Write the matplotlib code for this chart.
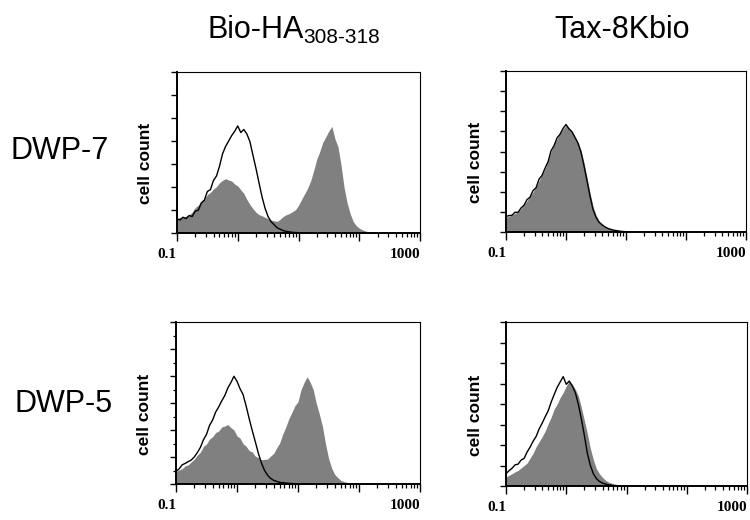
import numpy as np
import matplotlib
matplotlib.use("Agg")
import matplotlib.pyplot as plt
from matplotlib.ticker import LogLocator, NullFormatter, FixedLocator

plt.rcParams['font.family'] = ['Liberation Sans', 'DejaVu Sans']

# channel grid (log10 of fluorescence), 0.05 decade per channel
log_ch = np.round(np.arange(-1, 3.001, 0.05), 2)
fluor = 10 ** log_ch

col_titles = ["Bio-HA", "Tax-8Kbio"]
col_sub = ["308-318", ""]
row_labels = ["DWP-7", "DWP-5"]
tick_labels = ["0.1", "1000"]

# % of y axis height
tl_open = [8.7, 8.1, 9.8, 8.9, 10.9, 10.2, 13.6, 14.1, 18.7, 20.4, 25.8, 26.9, 32.6, 35.4, 41.5, 49.2,
           53.8, 57.1, 60.5, 63.2, 66.5, 62.4, 64.3, 61.5, 56.8, 48.3, 40.1, 31.2, 22.4, 15.3, 10.1,
           7.0, 5.1, 3.2, 2.3, 1.5, 1.0, 0.7, 0.4, 0.3, 0.2, 0]
tl_fill = [9.0, 9.6, 10.1, 10.4, 11.2, 13.0, 15.8, 17.2, 19.7, 21.3, 23.8, 25.2, 27.3, 28.8, 31.2, 32.7,
           33.8, 32.9, 32.3, 30.4, 29.2, 26.8, 24.6, 20.8, 17.7, 15.1, 12.9, 11.4, 10.7, 9.7, 8.9, 8.0,
           7.6, 7.2, 8.6, 10.3, 11.4, 12.1, 13.2, 14.4, 17.2, 20.8, 24.3, 27.8, 32.4, 38.7, 45.8, 50.6,
           56.3, 59.8, 63.4, 66.2, 58.5, 53.6, 42.3, 28.4, 18.8, 12.1, 7.2, 4.6, 3.0, 2.0, 1.3, 0.8,
           0.5, 0.3, 0.2, 0]
tr_open = [9.6, 10.2, 10.4, 12.3, 12.2, 14.9, 16.6, 20.1, 21.6, 25.7, 27.4, 32.8, 35.1, 39.6, 43.5, 50.4,
           53.6, 58.4, 60.7, 64.3, 66.8, 64.1, 62.3, 58.7, 55.2, 49.6, 41.2, 31.8, 22.3, 14.1, 9.2,
           6.1, 4.5, 3.2, 2.2, 1.6, 1.1, 0.8, 0.5, 0.3, 0.2, 0]
tr_fill = [9.2, 9.8, 10.6, 11.6, 12.6, 14.4, 17.0, 19.3, 22.1, 24.8, 28.1, 31.9, 35.6, 39.2, 44.1, 49.8,
           54.2, 58.0, 61.2, 64.0, 66.2, 64.6, 62.6, 59.4, 55.8, 50.8, 43.0, 34.0, 24.5, 16.0, 10.5,
           7.0, 5.0, 3.6, 2.5, 1.8, 1.2, 0.9, 0.6, 0.4, 0.3, 0.2, 0.1, 0]
bl_open = [7.8, 9.3, 11.8, 12.7, 13.8, 14.8, 16.7, 19.4, 22.6, 27.3, 30.6, 36.2, 39.5, 44.4, 47.6, 51.3,
           54.6, 59.3, 62.6, 66.5, 63.4, 58.8, 55.2, 48.1, 40.3, 33.0, 26.1, 19.0, 13.0, 8.5, 5.5,
           3.5, 2.3, 1.6, 1.0, 0.8, 0.6, 0.4, 0.3, 0.2, 0]
bl_fill = [7.8, 8.6, 9.4, 11.2, 11.8, 13.7, 15.3, 17.8, 19.7, 23.2, 24.7, 27.8, 29.2, 31.8, 32.7, 35.2,
           35.8, 36.7, 34.8, 33.3, 29.7, 28.3, 24.8, 23.3, 20.6, 19.8, 17.2, 16.3, 15.0, 15.2, 15.4,
           17.2, 18.8, 22.3, 25.3, 30.8, 35.2, 40.3, 44.2, 48.4, 50.8, 58.3, 62.7, 66.2, 62.8, 58.3,
           49.7, 43.2, 35.7, 25.0, 16.0, 10.0, 6.0, 4.0, 2.3, 1.5, 1.0, 0.6, 0.4, 0.3, 0.2, 0]
br_open = [7.5, 9.3, 10.8, 12.9, 13.3, 15.8, 16.8, 20.7, 23.7, 27.3, 30.2, 34.8, 38.3, 42.2, 45.8, 51.2,
           55.8, 60.2, 63.5, 66.7, 62.0, 64.0, 61.0, 57.0, 50.0, 41.0, 31.0, 20.0, 12.5, 7.5, 4.5,
           2.8, 1.8, 1.2, 0.8, 0.5, 0.3, 0.2, 0]
br_fill = [5.5, 6.5, 7.5, 8.6, 9.5, 11.0, 12.5, 14.0, 17.0, 20.0, 24.0, 27.0, 30.0, 33.5, 38.0, 42.0,
           47.0, 50.0, 54.0, 57.0, 61.0, 64.0, 62.0, 59.0, 55.0, 48.0, 40.0, 32.0, 23.0, 16.0, 10.6,
           7.5, 5.3, 3.6, 2.4, 1.7, 1.1, 0.8, 0.5, 0.3, 0.2, 0]

fig = plt.figure(figsize=(7.5, 5.2), dpi=100)
W, H = 750.0, 520.0

def make_ax(l, r, t, b):
    return fig.add_axes([l / W, 1 - b / H, (r - l) / W, (b - t) / H])

panels = [
    (make_ax(177, 420, 72, 233), tl_fill, tl_open, 7, False),
    (make_ax(506, 746, 71, 232), tr_fill, tr_open, 8, False),
    (make_ax(176, 420, 322, 484), bl_fill, bl_open, 6, True),
    (make_ax(506, 747, 322, 486), br_fill, br_open, 8, False),
]

for ax, filled, opened, nt, minor_y in panels:
    ax.fill_between(fluor[:len(filled)], 0, filled, color='#808080', lw=0)
    ax.plot(fluor[:len(opened)], opened, color='black', lw=1.0)
    ax.set_xscale('log')
    ax.set_xlim(0.1, 1000)
    ax.set_ylim(0, 100)
    ax.xaxis.set_major_locator(FixedLocator([0.1, 1, 10, 100, 1000]))
    ax.xaxis.set_minor_locator(LogLocator(base=10, subs=np.arange(2, 10)))
    ax.xaxis.set_minor_formatter(NullFormatter())
    ax.set_xticklabels([tick_labels[0], "", "", "", tick_labels[1]],
                       fontfamily='Liberation Serif', fontweight='bold', fontsize=11, ha='right')
    ax.set_yticks(np.linspace(0, 100, nt + 1))
    if minor_y:
        ax.set_yticks(np.linspace(0, 100, 2 * nt + 1), minor=True)
    ax.set_yticklabels([])
    ax.tick_params(axis='x', which='major', direction='out', length=6, width=1, pad=5)
    ax.tick_params(axis='x', which='minor', direction='out', length=3, width=0.9)
    ax.tick_params(axis='y', which='major', direction='out', length=4, width=1)
    ax.tick_params(axis='y', which='minor', direction='out', length=2.5, width=0.9)
    for s in ['left', 'bottom']:
        ax.spines[s].set_linewidth(1.4)
    for s in ['top', 'right']:
        ax.spines[s].set_linewidth(0.8)
    ax.text(-0.128, 0.43, "cell count", transform=ax.transAxes, rotation=90,
            ha='center', va='center', fontsize=12.5, fontweight='bold')

# column titles
fig.text(207 / W, 1 - 38 / H, col_titles[0], fontsize=22, ha='left', va='baseline')
fig.text(303 / W, 1 - 43 / H, col_sub[0], fontsize=15, ha='left', va='baseline')
fig.text(622 / W, 1 - 38 / H, col_titles[1], fontsize=22, ha='center', va='baseline')

# row labels
fig.text(60 / W, 1 - 151 / H, row_labels[0], fontsize=22, ha='center', va='center')
fig.text(64 / W, 1 - 404 / H, row_labels[1], fontsize=22, ha='center', va='center')

fig.savefig('out.png', dpi=100)
